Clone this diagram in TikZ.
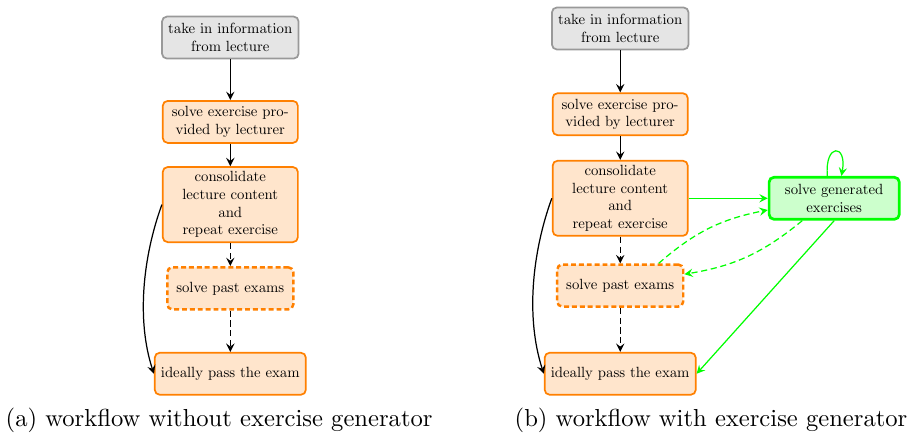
\documentclass[tikz,border=0pt]{standalone}
\usetikzlibrary{arrows,positioning}
\font\boxfnt=cmr10 at 6pt
\newcommand\taskfont{\boxfnt\baselineskip=7.2pt\relax}
\tikzset{
  task box/.style={draw=orange,fill=orange!20,line width=.7pt,rounded corners=2pt,
    align=center,font=\taskfont,inner xsep=2.5pt,inner ysep=1.8pt,
    minimum width=1.93cm,minimum height=.6cm},
  lecture box/.style={task box,draw=gray!80,fill=gray!20},
  optional box/.style={task box,line width=1pt,dash pattern=on 2pt off 1.2pt,minimum width=1.8cm},
  generator box/.style={task box,draw=green,fill=green!20,line width=1.1pt,minimum width=1.86cm},
  flow/.style={-stealth,line width=.5pt},
  optional flow/.style={flow,dash pattern=on 2.5pt off 1.5pt},
  generator flow/.style={flow,draw=green},
  optional generator flow/.style={generator flow,dash pattern=on 2.5pt off 1.5pt}
}
\begin{document}
\begin{tikzpicture}
\useasboundingbox (0,0) rectangle (12.971,6.257);

% (a) without generator
\node (infoA) [lecture box] at (3.29,5.72) {take in information\\from lecture};
\node (exerA) [task box,below=.58cm of infoA] {solve exercise pro-\\vided by lecturer};
\node (consA) [task box,below=.32cm of exerA] {consolidate\\lecture content\\and\\repeat exercise};
\node (pastA) [optional box,below=.33cm of consA] {solve past exams};
\node (passA) [task box,below=.59cm of pastA] {ideally pass the exam};
\draw[flow] (infoA) -- (exerA);
\draw[flow] (exerA) -- (consA);
\draw[optional flow] (consA) -- (pastA);
\draw[optional flow] (pastA) -- (passA);
\draw[flow] (consA.west) to[out=250,in=108,looseness=.85] (passA.west);
\node (capA) at (3.13,.257) {(a) workflow without exercise generator};

% (b) with generator
\node (infoB) [lecture box] at (8.86,5.85) {take in information\\from lecture};
\node (exerB) [task box,below=.6cm of infoB] {solve exercise pro-\\vided by lecturer};
\node (consB) [task box,below=.34cm of exerB] {consolidate\\lecture content\\and\\repeat exercise};
\node (pastB) [optional box,below=.38cm of consB] {solve past exams};
\node (passB) [task box,below=.63cm of pastB] {ideally pass the exam};
\node (genB) [generator box,right=1.13cm of consB] {solve generated\\exercises};
\draw[flow] (infoB) -- (exerB);
\draw[flow] (exerB) -- (consB);
\draw[optional flow] (consB) -- (pastB);
\draw[optional flow] (pastB) -- (passB);
\draw[flow] (consB.west) to[out=250,in=108,looseness=.85] (passB.west);
\draw[generator flow] (consB) -- (genB);
\draw[optional generator flow] (pastB.30) to[bend left=15] (genB.190);
\draw[optional generator flow] (genB.215) to[bend left=15] (pastB.10);
\draw[generator flow] (genB.south) -- (passB.east);
\draw[generator flow] (genB.107) to[out=95,in=80,looseness=6] (genB.72);
\node (capB) at (10.157,.257) {(b) workflow with exercise generator};
\end{tikzpicture}
\end{document}
